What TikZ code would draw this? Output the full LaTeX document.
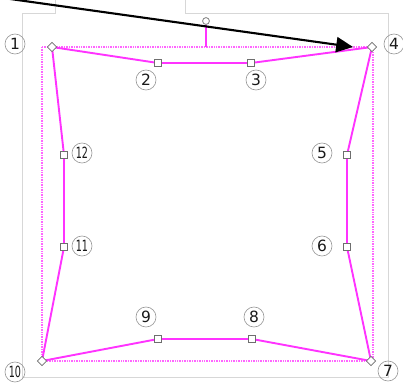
\documentclass[tikz,border=0pt]{standalone}
\usepackage{fontspec}
\setsansfont{DejaVu Sans}
\usetikzlibrary{arrows.meta,shapes.geometric}
\definecolor{selpink}{RGB}{255,51,255}
\definecolor{framegray}{RGB}{215,215,215}
\definecolor{knobgray}{RGB}{110,110,110}
\newcommand{\narrow}[1]{\scalebox{0.62}[1]{#1}}
\tikzset{
  outline/.style={draw=selpink, line width=1.35pt, line join=round},
  selbox/.style={draw=selpink!75, line width=1.2pt, dash pattern=on 0.55pt off 0.65pt},
  vknob/.style={diamond, draw=knobgray, fill=white, line width=0.5pt, minimum size=0.24cm, inner sep=0pt, aspect=1},
  eknob/.style={rectangle, draw=knobgray, fill=white, line width=0.5pt, minimum size=0.17cm, inner sep=0pt},
  rknob/.style={circle, draw=knobgray, fill=white, line width=0.5pt, minimum size=0.17cm, inner sep=0pt},
  num/.style={circle, draw=gray!80, text=gray!20!black, line width=0.45pt, minimum size=0.5cm, inner sep=0pt, font=\sffamily\fontsize{11}{11}\selectfont}
}
\begin{document}
\begin{tikzpicture}[x=0.025cm,y=-0.025cm]
\useasboundingbox (0,0) rectangle (403,383);
% window frame behind
\draw[framegray, line width=0.4pt] (22,377) -- (22,13) -- (55,13) -- (55,0);
\draw[framegray, line width=0.4pt] (185,0) -- (185,13) -- (388,13) -- (388,377) -- (22,377);
% selection box
\draw[selbox] (42,47) rectangle (373,361);
\coordinate (rtop) at (206,47);
\node[rknob] (rot) at (206,21) {};
\draw[draw=selpink, line width=1.3pt] (rot) -- (rtop);
% shape outline
\coordinate (p1) at (52,47);
\coordinate (p2) at (158,63);
\coordinate (p3) at (251,63);
\coordinate (p4) at (372,47);
\coordinate (p5) at (347,155);
\coordinate (p6) at (347,247);
\coordinate (p7) at (371,361);
\coordinate (p8) at (252,339);
\coordinate (p9) at (158,339);
\coordinate (p10) at (42,361);
\coordinate (p11) at (64,247);
\coordinate (p12) at (64,155);
\draw[outline] (p1) -- (p2) -- (p3) -- (p4) -- (p5) -- (p6) -- (p7)
  -- (p8) -- (p9) -- (p10) -- (p11) -- (p12) -- cycle;
% handles
\foreach \i in {1,4,7,10} \node[vknob] (k\i) at (p\i) {};
\foreach \i in {2,3,5,6,8,9,11,12} \node[eknob] (k\i) at (p\i) {};
% numbers
\node[num] (n1) at (15,44) {1};
\node[num] (n2) at (146,80) {2};
\node[num] (n3) at (256,80) {3};
\node[num] (n4) at (394,44) {4};
\node[num] (n5) at (322,153) {5};
\node[num] (n6) at (322,246) {6};
\node[num] (n7) at (388,371) {7};
\node[num] (n8) at (254,317) {8};
\node[num] (n9) at (146,317) {9};
\node[num] (n10) at (15,372) {\narrow{10}};
\node[num] (n11) at (82,246) {\narrow{11}};
\node[num] (n12) at (82,153) {\narrow{12}};
% pointer
\coordinate (pstart) at (-4,-3);
\coordinate (ptip) at (353,47);
\draw[line width=1.5pt, -{Triangle[length=0.42cm,width=0.38cm]}] (pstart) -- (ptip);
\end{tikzpicture}
\end{document}
